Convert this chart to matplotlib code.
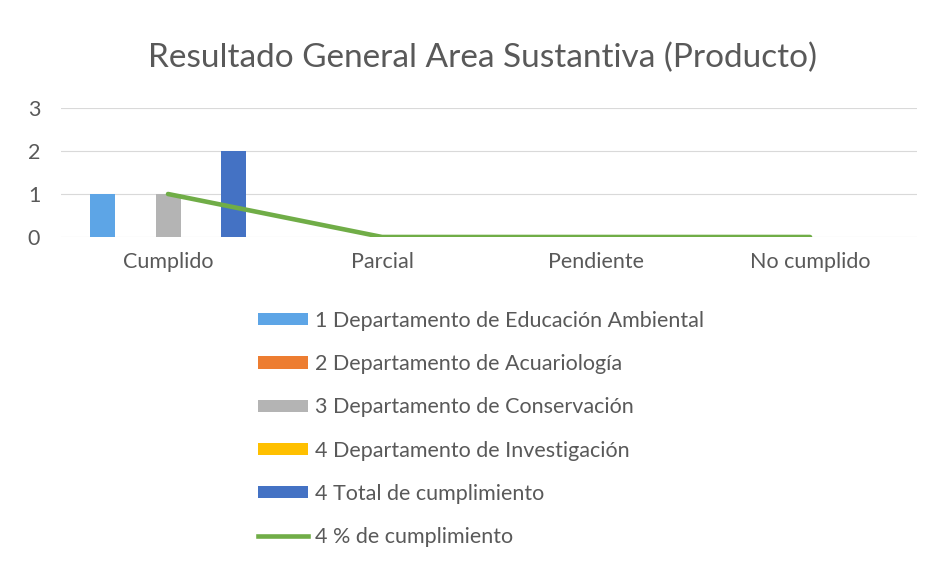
import numpy as np
import matplotlib.pyplot as plt
from matplotlib.patches import Patch
from matplotlib.lines import Line2D

plt.rcParams['font.family'] = ['Lato', 'DejaVu Sans']

categories = ['Cumplido', 'Parcial', 'Pendiente', 'No cumplido']
educacion = [1, 0, 0, 0]
acuariologia = [0, 0, 0, 0]
conservacion = [1, 0, 0, 0]
investigacion = [0, 0, 0, 0]
total = [2, 0, 0, 0]
porcentaje = [1, 0, 0, 0]

bar_series = [educacion, acuariologia, conservacion, investigacion, total]
bar_labels = ['1 Departamento de Educación Ambiental',
              '2 Departamento de Acuariología',
              '3 Departamento de Conservación',
              '4 Departamento de Investigación',
              '4 Total de cumplimiento']
line_label = '4 % de cumplimiento'
colors = ['#5DA5E6', '#ED7D31', '#B4B4B4', '#FFC000', '#4472C4']
green = '#70AD47'
grey_txt = '#595959'

fig = plt.figure(figsize=(9.33, 5.64), dpi=100)
ax = fig.add_axes([0.0654, 0.5798, 0.9175, 0.2287])

x = np.arange(len(categories))
step = 0.154
width = 0.117
for i, (vals, c) in enumerate(zip(bar_series, colors)):
    ax.bar(x + (i - 2) * step, vals, width, color=c, zorder=2)
ax.plot(x, porcentaje, color=green, lw=3.3, zorder=3, solid_capstyle='round')

ax.set_xlim(-0.5, len(categories) - 0.5)
ax.set_ylim(0, 3)
ax.set_yticks([0, 1, 2, 3])
ax.set_xticks(x)
ax.set_xticklabels(categories)
ax.tick_params(length=0, labelsize=15.5, colors=grey_txt)
ax.tick_params(axis='x', pad=11)
ax.tick_params(axis='y', pad=15)
ax.grid(axis='y', color='#D9D9D9', lw=0.8, zorder=0)
for s in ax.spines.values():
    s.set_visible(False)

fig.suptitle('Resultado General Area Sustantiva (Producto)', x=0.517, y=0.925,
             fontsize=24, color=grey_txt)

handles = [Patch(facecolor=c, edgecolor='none') for c in colors]
handles.append(Line2D([0], [0], color=green, lw=3.3))
fig.legend(handles, bar_labels + [line_label], loc='upper left',
           bbox_to_anchor=(0.2557, 0.483), frameon=False, fontsize=15.5,
           labelcolor=grey_txt, handlelength=2.33, handleheight=0.5,
           handletextpad=0.3, labelspacing=1.08)

fig.savefig('out.png', dpi=100)
